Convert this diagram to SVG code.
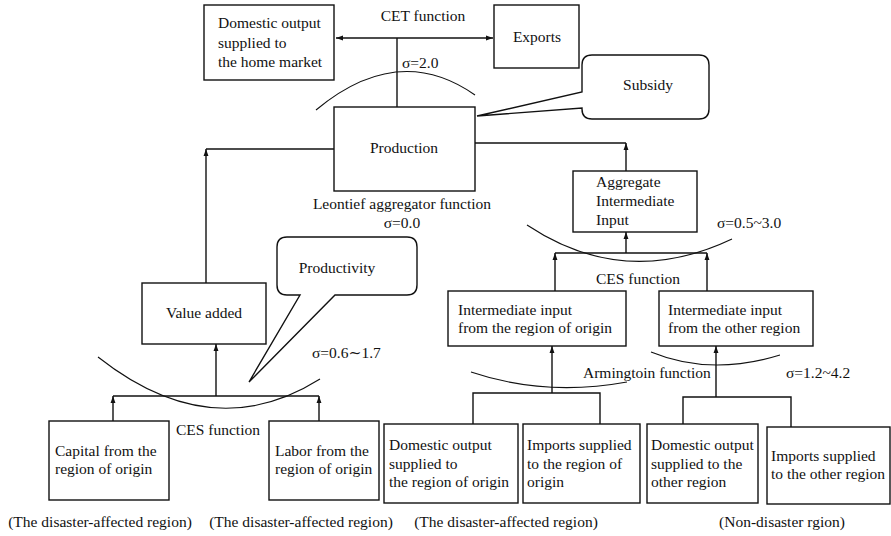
<svg xmlns="http://www.w3.org/2000/svg" width="891" height="536" viewBox="0 0 891 536">
<style>
text{font-family:"Liberation Serif","Times New Roman","DejaVu Serif",serif;font-size:15.5px;fill:#111}
.box{fill:#fff;stroke:#111;stroke-width:1.4}
.ln{fill:none;stroke:#111;stroke-width:1.4}
.arc{fill:none;stroke:#111;stroke-width:1.1}
.mid{text-anchor:middle}
</style>
<defs>
<marker id="ah" viewBox="0 0 10 10" refX="10" refY="5" markerWidth="7" markerHeight="7" markerUnits="userSpaceOnUse" orient="auto-start-reverse">
<path d="M0,1.5 L10,5 L0,8.5 Z" fill="#111"/>
</marker>
</defs>
<rect width="891" height="536" fill="#fff"/>

<g id="arcs">
<path class="arc" d="M316,110 Q398.5,41.5 475,95"/>
<path class="arc" d="M98,357 Q212,447 320,379"/>
<path class="arc" d="M527,225 Q624.5,290 732,239"/>
<path class="arc" d="M471,372 Q545,397 627,382"/>
<path class="arc" d="M651,352 Q710.5,376.5 780,355"/>
</g>

<g id="connectors">
<line class="ln" x1="397" y1="38" x2="397" y2="107"/>
<line class="ln" x1="336" y1="38" x2="493" y2="38" marker-start="url(#ah)" marker-end="url(#ah)"/>
<polyline class="ln" points="334,149 206,149"/>
<line class="ln" x1="206" y1="283" x2="206" y2="149" marker-end="url(#ah)"/>
<polyline class="ln" points="475,143 626,143"/>
<line class="ln" x1="626" y1="171" x2="626" y2="143" marker-end="url(#ah)"/>
<line class="ln" x1="216" y1="396" x2="216" y2="344" marker-end="url(#ah)"/>
<line class="ln" x1="113" y1="396" x2="319" y2="396"/>
<line class="ln" x1="113" y1="421" x2="113" y2="396" marker-end="url(#ah)"/>
<line class="ln" x1="319" y1="421" x2="319" y2="396" marker-end="url(#ah)"/>
<line class="ln" x1="626" y1="253" x2="626" y2="232" marker-end="url(#ah)"/>
<line class="ln" x1="555" y1="253" x2="707" y2="253"/>
<line class="ln" x1="555" y1="291" x2="555" y2="253" marker-end="url(#ah)"/>
<line class="ln" x1="707" y1="291" x2="707" y2="253" marker-end="url(#ah)"/>
<line class="ln" x1="552" y1="393" x2="552" y2="346" marker-end="url(#ah)"/>
<polyline class="ln" points="473,424 473,393 600,393 600,424"/>
<line class="ln" x1="716" y1="397" x2="716" y2="346" marker-end="url(#ah)"/>
<polyline class="ln" points="683,424 683,397 791,397 791,427"/>
</g>

<g id="domestic-home">
<rect class="box" x="204" y="5" width="130" height="75"/>
<text x="218" y="28">Domestic output</text>
<text x="218" y="48">supplied to</text>
<text x="218" y="67">the home market</text>
</g>
<g id="exports">
<rect class="box" x="494" y="5" width="85" height="63"/>
<text class="mid" x="537" y="42">Exports</text>
</g>
<g id="cet-label">
<text class="mid" x="423" y="21">CET function</text>
<text x="402" y="68">σ=2.0</text>
</g>

<g id="production">
<rect class="box" x="334" y="107" width="141" height="84"/>
<text class="mid" x="404" y="153">Production</text>
</g>
<g id="leontief-label">
<text class="mid" x="402" y="209">Leontief aggregator function</text>
<text class="mid" x="402" y="228">σ=0.0</text>
</g>

<g id="subsidy">
<path class="box" d="M592,55 H699 Q709,55 709,65 V109 Q709,119 699,119 H592 Q582,119 582,109 V108 L477,116 L582,92 V65 Q582,55 592,55 Z"/>
<text class="mid" x="648" y="90">Subsidy</text>
</g>

<g id="aggregate">
<rect class="box" x="573" y="171" width="124" height="61"/>
<text x="596" y="187">Aggregate</text>
<text x="596" y="206">Intermediate</text>
<text x="596" y="225">Input</text>
</g>
<g id="ces-right-label">
<text x="717" y="228">σ=0.5~3.0</text>
<text class="mid" x="638" y="284">CES function</text>
</g>

<g id="productivity">
<path class="box" d="M287,237 H407 Q417,237 417,247 V285 Q417,295 407,295 H335 L249,382 L300,295 H287 Q277,295 277,285 V247 Q277,237 287,237 Z"/>
<text class="mid" x="337" y="273">Productivity</text>
</g>

<g id="value-added">
<rect class="box" x="142" y="283" width="124" height="61"/>
<text class="mid" x="204" y="318">Value added</text>
</g>
<g id="ces-left-label">
<text x="312" y="358">σ=0.6∼1.7</text>
<text class="mid" x="218" y="435">CES function</text>
</g>

<g id="intermediate-origin">
<rect class="box" x="448" y="291" width="178" height="55"/>
<text x="458" y="315">Intermediate input</text>
<text x="458" y="333">from  the region of origin</text>
</g>
<g id="intermediate-other">
<rect class="box" x="659" y="291" width="154" height="55"/>
<text x="668" y="315">Intermediate input</text>
<text x="668" y="333">from the other region</text>
</g>
<g id="armington-label">
<text x="583" y="378">Armingtoin function</text>
<text x="786" y="378">σ=1.2~4.2</text>
</g>

<g id="capital">
<rect class="box" x="49" y="421" width="120" height="79"/>
<text x="55" y="456">Capital  from the</text>
<text x="55" y="474">region of origin</text>
</g>
<g id="labor">
<rect class="box" x="269" y="421" width="110" height="79"/>
<text x="275" y="456">Labor from the</text>
<text x="275" y="474">region of origin</text>
</g>

<g id="domestic-origin">
<rect class="box" x="384" y="424" width="134" height="79"/>
<text x="389" y="450">Domestic output</text>
<text x="389" y="469">supplied to</text>
<text x="389" y="487">the region of  origin</text>
</g>
<g id="imports-origin">
<rect class="box" x="523" y="424" width="117" height="79"/>
<text x="527" y="450">Imports supplied</text>
<text x="527" y="469">to the region of</text>
<text x="527" y="487">origin</text>
</g>
<g id="domestic-other">
<rect class="box" x="647" y="424" width="111" height="79"/>
<text x="651" y="450">Domestic output</text>
<text x="651" y="469">supplied to the</text>
<text x="651" y="487">other region</text>
</g>
<g id="imports-other">
<rect class="box" x="767" y="427" width="123" height="77"/>
<text x="771" y="461">Imports supplied</text>
<text x="771" y="479">to the other region</text>
</g>

<g id="region-labels">
<text class="mid" x="100" y="527">(The disaster-affected region)</text>
<text class="mid" x="301" y="527">(The disaster-affected region)</text>
<text class="mid" x="506" y="527">(The disaster-affected region)</text>
<text class="mid" x="782" y="527">(Non-disaster rgion)</text>
</g>
</svg>
